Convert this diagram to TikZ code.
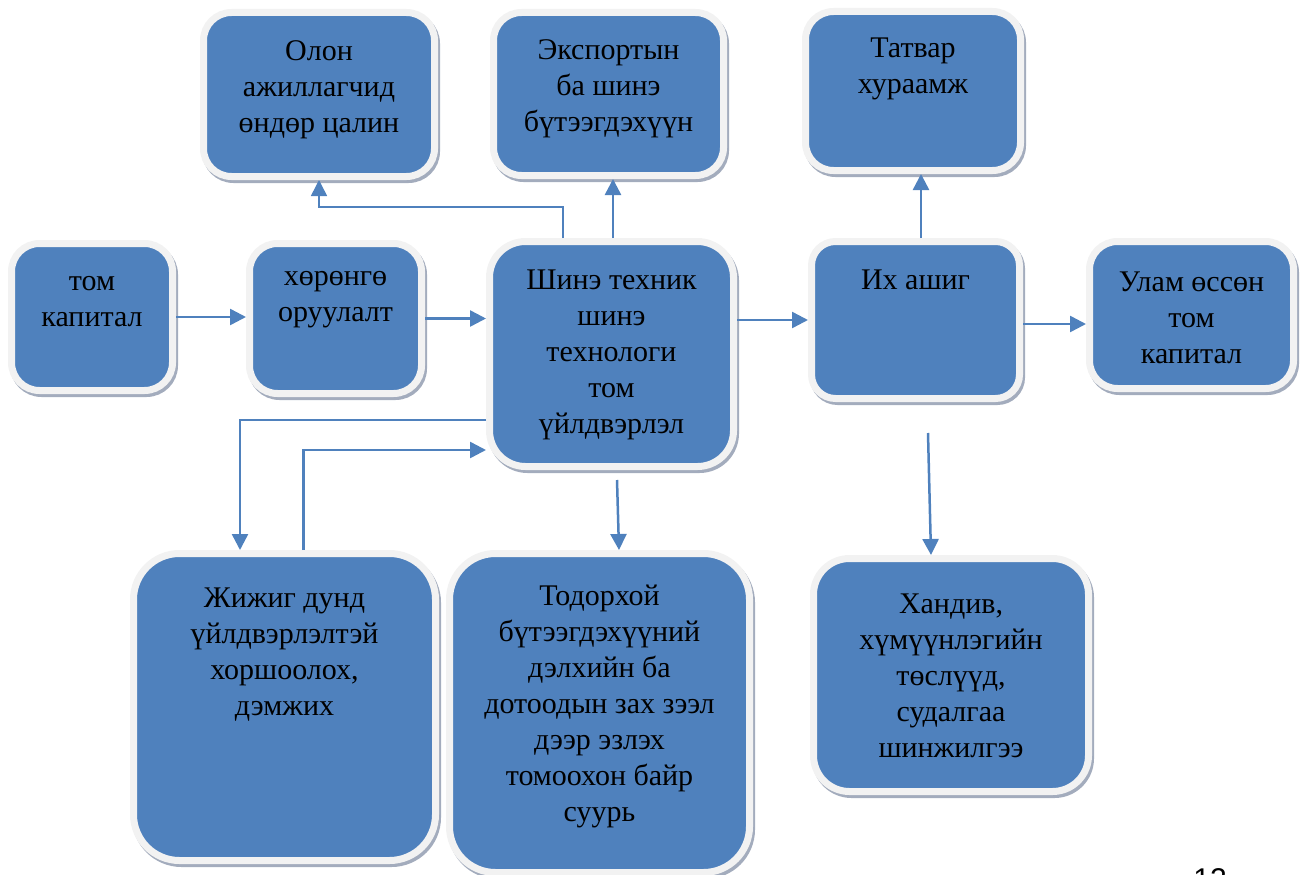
\documentclass[tikz,border=0pt]{standalone}
\usepackage{fontspec}
\setmainfont{Liberation Serif}
\setsansfont{Liberation Sans}
\usetikzlibrary{arrows.meta}

\definecolor{boxblue}{HTML}{4F81BD}
\definecolor{rim}{HTML}{F2F2F2}
\definecolor{rimshade}{HTML}{A3ACBD}

\begin{document}
\begin{tikzpicture}[x=1pt,y=-1pt,
  box/.style={draw=rim, line width=7pt, fill=boxblue, rounded corners=#1,
              preaction={draw=rimshade, line width=7pt,
                         transform canvas={xshift=2pt,yshift=-3pt}}},
  box/.default=28pt,
  txt/.style={align=center, font=\fontsize{30}{36}\selectfont, inner sep=0pt},
  arr/.style={draw=boxblue, line width=2.5pt, -{Triangle[length=16pt,width=16pt]}},
  thinarr/.style={arr, line width=1.5pt}]
\useasboundingbox (0,0) rectangle (1306,875);

% top row
\node[box, minimum width=231pt, minimum height=164pt] (olon) at (319,94.5) {};
\node[txt] (olon-t) at (319,90) {Олон\\ажиллагчид\\өндөр цалин};
\node[box, minimum width=230pt, minimum height=163pt] (eksp) at (608.5,94) {};
\node[txt] (eksp-t) at (608.5,88.5) {Экспортын\\ба шинэ\\бүтээгдэхүүн};
\node[box, minimum width=215pt, minimum height=159pt] (tatvar) at (913,91) {};
\node[txt] (tatvar-t) at (913,69) {Татвар\\хураамж};

% middle row
\node[box, minimum width=161pt, minimum height=147pt] (tom) at (92,317) {};
\node[txt] (tom-t) at (92,301.5) {том\\капитал};
\node[box, minimum width=172pt, minimum height=150pt] (horongo) at (335.5,318.5) {};
\node[txt] (horongo-t) at (335.5,300) {хөрөнгө\\оруулалт};
\node[box=36pt, minimum width=244pt, minimum height=225pt] (shine) at (611.5,354) {};
\node[txt] (shine-t) at (611.5,354.5) {Шинэ техник\\шинэ\\технологи\\том\\үйлдвэрлэл};
\node[box=24pt, minimum width=208pt, minimum height=157pt] (ashig) at (915.5,320) {};
\node[txt] (ashig-t) at (915.5,280) {Их ашиг};
\node[box, minimum width=204pt, minimum height=147pt] (ulam) at (1191.5,315) {};
\node[txt] (ulam-t) at (1191.5,317.5) {Улам өссөн\\том\\капитал};

% bottom row
\node[box=46pt, minimum width=302pt, minimum height=307pt] (jijig) at (284.5,707) {};
\node[txt] (jijig-t) at (284.5,655) {Жижиг дунд\\үйлдвэрлэлтэй\\хоршоолох,\\дэмжих};
\node[box=46pt, minimum width=300pt, minimum height=319pt] (todorhoi) at (599.5,713) {};
\node[txt] (todorhoi-t) at (599.5,706) {Тодорхой\\бүтээгдэхүүний\\дэлхийн ба\\дотоодын зах зээл\\дээр эзлэх\\томоохон байр\\суурь};
\node[box=36pt, minimum width=275pt, minimum height=233pt] (handiv) at (951,675) {};
\node[txt] (handiv-t) at (951,676) {Хандив,\\хүмүүнлэгийн\\төслүүд,\\судалгаа\\шинжилгээ};

\node[font=\sffamily\fontsize{30}{36}\selectfont, inner sep=0pt, anchor=north] (pagenum) at (1210,868) {12};

% connectors
\draw[arr] (tom) -- (tom -| horongo.west);
\draw[arr] (horongo) -- (horongo -| shine.west);
\draw[arr] (ashig -| shine.east) -- (ashig.west);
\draw[arr] ([yshift=-4pt]ashig.east) -- ([yshift=-4pt]ashig.east -| ulam.west);
\draw[arr] ([xshift=5.5pt]ashig.north) -- ([xshift=5.5pt]ashig.north |- tatvar.south);
\draw[arr] ([xshift=1.5pt]shine.north) -- ([xshift=1.5pt]shine.north |- eksp.south);
\draw[thinarr] ([xshift=-48.5pt]shine.north) -- ++(0,-31) -| (olon.south);
\draw[arr] ([yshift=-66pt]shine.west) -| ([xshift=-44.5pt]jijig.north);
\draw[arr] ([xshift=19pt]jijig.north) |- ([yshift=-96pt]shine.west);
\draw[arr] ([shift={(5.5pt,-10pt)}]shine.south) -- ([xshift=19.5pt]todorhoi.north);
\draw[arr] ([shift={(12.5pt,-31pt)}]ashig.south) -- ([xshift=-20pt]handiv.north);
\end{tikzpicture}
\end{document}
